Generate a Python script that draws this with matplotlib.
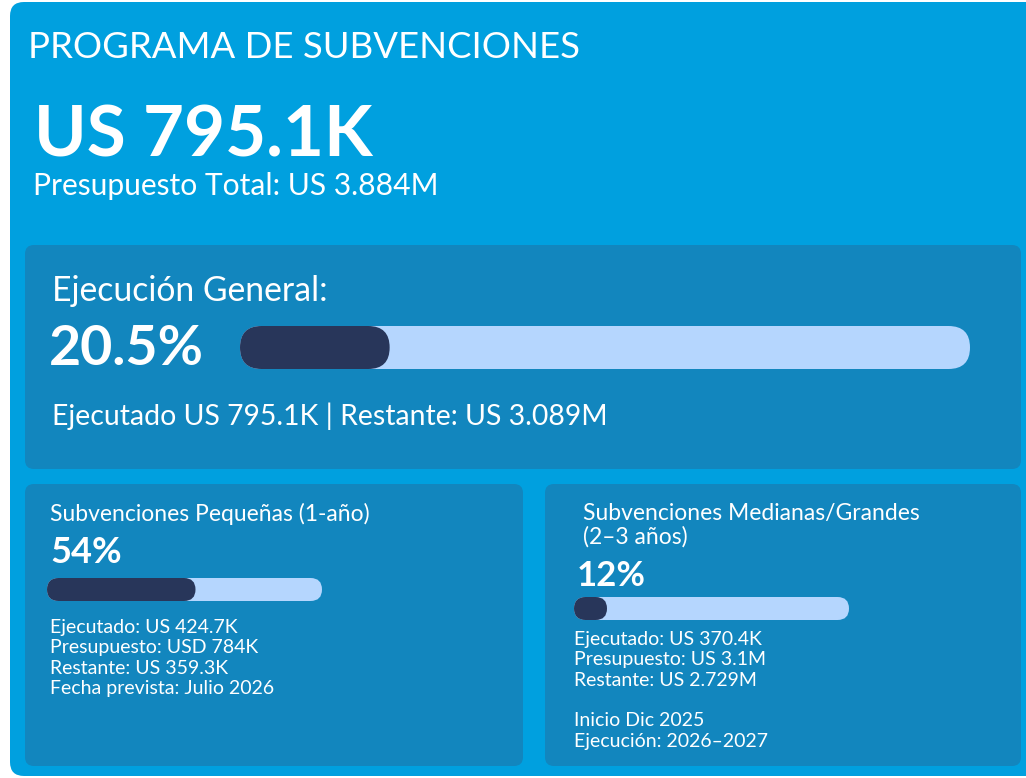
import matplotlib.pyplot as plt
from matplotlib.patches import FancyBboxPatch

# --------------------------------------------------------------------
# Datos
# --------------------------------------------------------------------
TITLE = "PROGRAMA DE SUBVENCIONES"
TOTAL_EXEC = "US 795.1K"
TOTAL_BUDGET = "Presupuesto Total: US 3.884M"

GENERAL_LABEL = "Ejecución General:"
GENERAL_PCT = 20.5
GENERAL_NOTE = "Ejecutado US 795.1K | Restante: US 3.089M"

PANEL_TITLES = [
    ["Subvenciones Pequeñas (1-año)"],
    ["Subvenciones Medianas/Grandes", "(2–3 años)"],
]
PANEL_PCTS = [54, 12]
PANEL_DETAILS = [
    ["Ejecutado: US 424.7K", "Presupuesto: USD 784K", "Restante: US 359.3K",
     "Fecha prevista: Julio 2026"],
    ["Ejecutado: US 370.4K", "Presupuesto: US 3.1M", "Restante: US 2.729M", "",
     "Inicio Dic 2025", "Ejecución: 2026–2027"],
]

# --------------------------------------------------------------------
# Estilo
# --------------------------------------------------------------------
OUTER = "#00a0df"
PANEL = "#1286be"
DARK = "#28365a"
LIGHT = "#b5d6fe"
FONT = ["Lato", "DejaVu Sans"]

plt.rcParams["font.family"] = FONT

W, H = 1026, 778
fig = plt.figure(figsize=(W / 100, H / 100), dpi=100)
fig.patch.set_facecolor("white")
ax = fig.add_axes([0, 0, 1, 1])
ax.set_xlim(0, W)
ax.set_ylim(H, 0)
ax.axis("off")


def rbox(x, y, w, h, r, color):
    ax.add_patch(FancyBboxPatch((x, y), w, h,
                                boxstyle=f"round,pad=0,rounding_size={r}",
                                fc=color, ec="none"))


def progress(x, y, w, h, pct):
    rbox(x, y, w, h, h / 2, LIGHT)
    rbox(x, y, w * pct / 100, h, h / 2, DARK)


def txt(x, y, s, size, weight="normal"):
    ax.text(x, y, s, fontsize=size, color="white", fontweight=weight,
            ha="left", va="baseline")


# fondo
rbox(10, 2, 1040, 774, 14, OUTER)

# cabecera
txt(28, 58, TITLE, 26.3)
txt(34, 156, TOTAL_EXEC, 51, "bold")
txt(33, 195, TOTAL_BUDGET, 21.6)

# panel general
rbox(25, 245, 996, 224, 9, PANEL)
txt(52, 301, GENERAL_LABEL, 24.3)
txt(49, 365, f"{GENERAL_PCT}%", 40, "bold")
progress(240, 326, 730, 43, GENERAL_PCT)
txt(52, 425, GENERAL_NOTE, 20.4)

# paneles inferiores
panels = [
    dict(x=25, w=498, tx=50, bx=47, title_y=521, pct_y=563, bar_y=578, det_y=633),
    dict(x=545, w=476, tx=583, bx=574, title_y=520, pct_y=586, bar_y=597, det_y=645),
]
for i, p in enumerate(panels):
    rbox(p["x"], 484, p["w"], 282, 9, PANEL)
    for j, line in enumerate(PANEL_TITLES[i]):
        txt(p["tx"], p["title_y"] + j * 24, line, 16.5)
    txt(p["bx"] + 3, p["pct_y"], f"{PANEL_PCTS[i]}%", 26 if i == 0 else 25, "bold")
    progress(p["bx"], p["bar_y"], 275, 23, PANEL_PCTS[i])
    for j, line in enumerate(PANEL_DETAILS[i]):
        txt(p["bx"] + (3 if i == 0 else 0), p["det_y"] + j * 20.3, line, 14)

fig.savefig("out.png", dpi=100, facecolor=fig.get_facecolor())
